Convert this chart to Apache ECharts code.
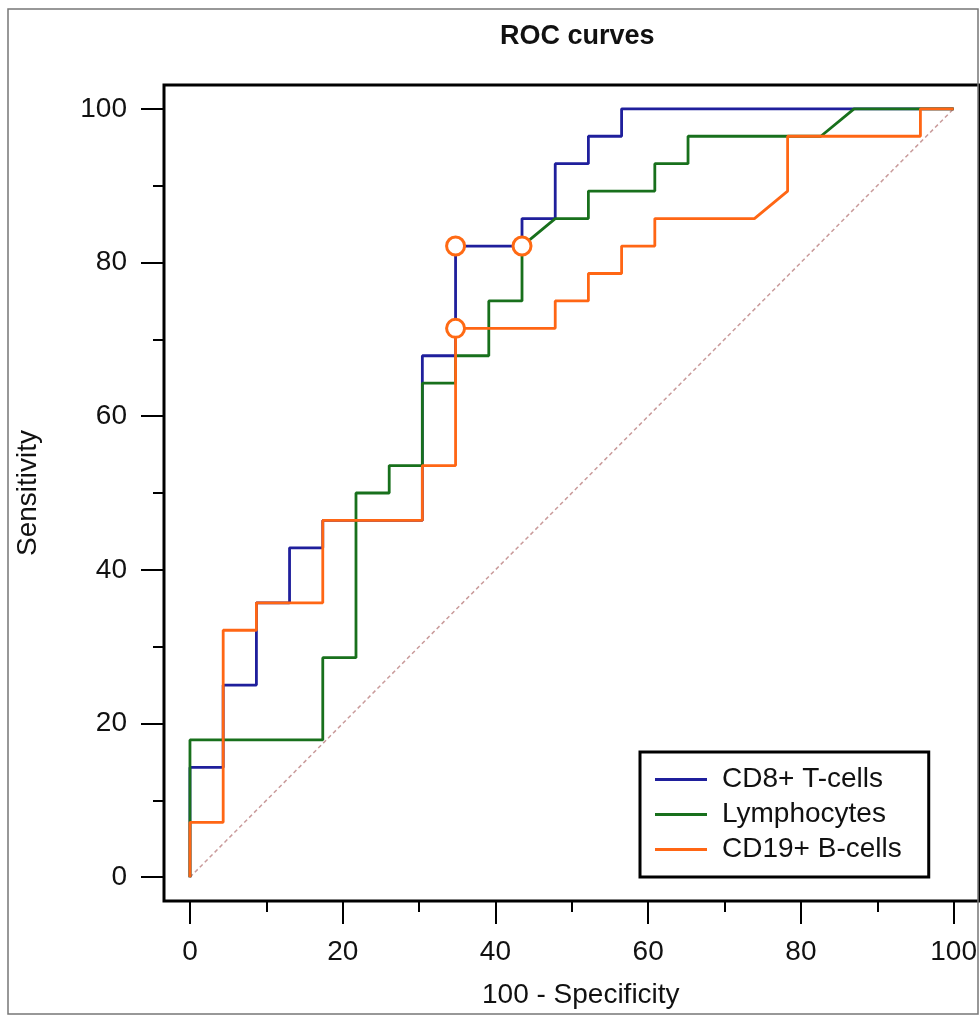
<!DOCTYPE html>
<html>
<head>
<meta charset="utf-8">
<title>ROC curves</title>
<script src="https://cdn.jsdelivr.net/npm/echarts@6/dist/echarts.min.js"></script>
<style>
html, body { margin: 0; padding: 0; background: #fff; }
#rocChart { width: 980px; height: 1017px; }
</style>
</head>
<body>
<div id="rocChart"></div>
<script>
// points are [100 - Specificity, Sensitivity]
const cd8Points = [
    [0, 0], [0, 14.29], [4.35, 14.29], [4.35, 25], [8.70, 25], [8.70, 35.71],
    [13.04, 35.71], [13.04, 42.86], [17.39, 42.86], [17.39, 46.43], [30.43, 46.43],
    [30.43, 67.86], [34.78, 67.86], [34.78, 82.14], [43.48, 82.14], [43.48, 85.71],
    [47.83, 85.71], [47.83, 92.86], [52.17, 92.86], [52.17, 96.43], [56.52, 96.43],
    [56.52, 100], [100, 100]
];
const lymphoPoints = [
    [0, 0], [0, 17.86], [17.39, 17.86], [17.39, 28.57], [21.74, 28.57], [21.74, 50],
    [26.09, 50], [26.09, 53.57], [30.43, 53.57], [30.43, 64.29], [34.78, 64.29],
    [34.78, 67.86], [39.13, 67.86], [39.13, 75], [43.48, 75], [43.48, 82.14],
    [47.83, 85.71], [52.17, 85.71], [52.17, 89.29], [60.87, 89.29], [60.87, 92.86],
    [65.22, 92.86], [65.22, 96.43], [82.61, 96.43], [86.96, 100], [100, 100]
];
const cd19Points = [
    [0, 0], [0, 7.14], [4.35, 7.14], [4.35, 32.14], [8.70, 32.14], [8.70, 35.71],
    [17.39, 35.71], [17.39, 46.43], [30.43, 46.43], [30.43, 53.57], [34.78, 53.57],
    [34.78, 71.43], [47.83, 71.43], [47.83, 75], [52.17, 75], [52.17, 78.57],
    [56.52, 78.57], [56.52, 82.14], [60.87, 82.14], [60.87, 85.71], [73.91, 85.71],
    [78.26, 89.29], [78.26, 96.43], [95.65, 96.43], [95.65, 100], [100, 100]
];
// optimal criterion markers
const cutoffPoints = [[34.78, 82.14], [43.48, 82.14], [34.78, 71.43]];
const diagonalPoints = [[0, 0], [100, 100]];

const majorTicks = [0, 20, 40, 60, 80, 100];
const minorTicks = [10, 30, 50, 70, 90];
const seriesNames = ['CD8+ T-cells', 'Lymphocytes', 'CD19+ B-cells'];
const seriesColors = ['#1f1f9c', '#18701c', '#ff6614'];

const fontName = '"Liberation Sans", Arial, sans-serif';

function makeAxis(isX, minor) {
    let axis = {
        type: 'value',
        min: isX ? -3.4 : -3.1,
        max: isX ? 103.4 : 103.1,
        position: isX ? 'bottom' : 'left',
        axisLine: { show: false, onZero: false },
        splitLine: { show: false },
        axisTick: {
            show: true,
            inside: false,
            length: minor ? 11 : 23,
            customValues: minor ? minorTicks : majorTicks,
            lineStyle: { color: '#000', width: 2 }
        },
        axisLabel: {
            show: !minor,
            customValues: majorTicks,
            margin: 37,
            color: '#111',
            fontSize: 28,
            fontFamily: fontName
        }
    };
    if (!minor) {
        axis.name = isX ? '100 - Specificity' : 'Sensitivity';
        axis.nameLocation = 'middle';
        axis.nameGap = isX ? 80 : 122;
        axis.nameTextStyle = {
            color: '#111', fontSize: 28, fontFamily: fontName,
            padding: isX ? [0, 0, 0, 18] : [0, 0, 0, 0]
        };
    }
    return axis;
}

const chart = echarts.init(document.getElementById('rocChart'));

const option = {
    backgroundColor: '#fff',
    animation: false,
    title: {
        text: 'ROC curves',
        left: 495,
        top: 18,
        textStyle: { color: '#111', fontSize: 27, fontWeight: 'bold', fontFamily: fontName }
    },
    grid: {
        left: 164,
        top: 85,
        width: 819,
        height: 816,
        show: true,
        borderColor: '#000',
        borderWidth: 3,
        backgroundColor: '#fff'
    },
    legend: {
        data: seriesNames,
        orient: 'vertical',
        left: 640,
        top: 752,
        padding: [10, 27, 10, 15],
        itemGap: 0,
        itemWidth: 52,
        itemHeight: 3,
        icon: 'rect',
        backgroundColor: '#fff',
        borderColor: '#000',
        borderWidth: 3,
        textStyle: { color: '#111', fontSize: 28, lineHeight: 35, fontFamily: fontName, padding: [0, 0, 0, 10] }
    },
    graphic: [{
        type: 'rect',
        shape: { x: 8, y: 9, width: 970, height: 1005 },
        style: { fill: 'none', stroke: '#777', lineWidth: 1.5 },
        z: 100
    }],
    xAxis: [makeAxis(true, false), makeAxis(true, true)],
    yAxis: [makeAxis(false, false), makeAxis(false, true)],
    series: [
        {
            name: 'diagonal',
            type: 'line',
            data: diagonalPoints,
            symbol: 'none',
            silent: true,
            lineStyle: { color: '#c99a9a', width: 1.5, type: [4, 3] }
        },
        {
            name: seriesNames[0],
            type: 'line',
            data: cd8Points,
            symbol: 'none',
            color: seriesColors[0],
            lineStyle: { width: 2.8 }
        },
        {
            name: seriesNames[1],
            type: 'line',
            data: lymphoPoints,
            symbol: 'none',
            color: seriesColors[1],
            lineStyle: { width: 2.8 }
        },
        {
            name: seriesNames[2],
            type: 'line',
            data: cd19Points,
            symbol: 'none',
            color: seriesColors[2],
            lineStyle: { width: 2.8 }
        },
        {
            name: 'criterion',
            type: 'scatter',
            data: cutoffPoints,
            symbol: 'circle',
            symbolSize: 18,
            z: 5,
            itemStyle: { color: '#fff', borderColor: '#ff6a14', borderWidth: 3, opacity: 1 }
        }
    ]
};

chart.setOption(option);
</script>
</body>
</html>
